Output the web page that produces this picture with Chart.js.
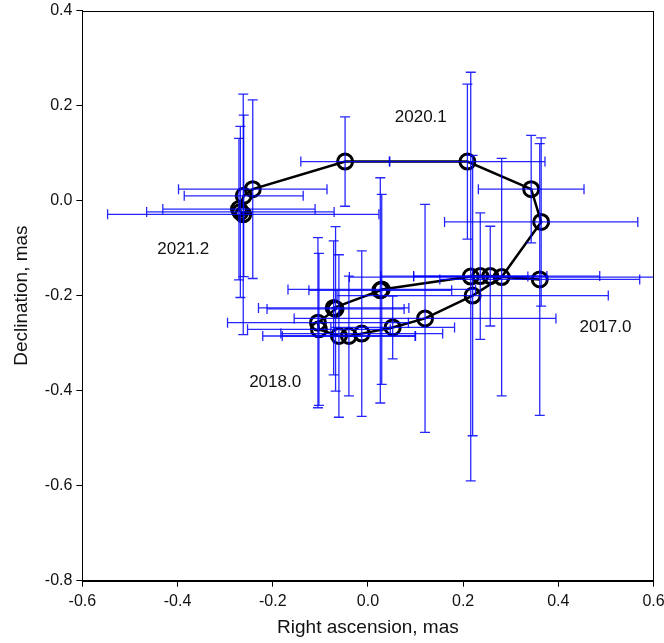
<!DOCTYPE html>
<html>
<head>
<meta charset="utf-8">
<script src="https://cdn.jsdelivr.net/npm/chart.js@4"></script>
<style>
  body { margin: 0; background: #fff; }
  #wrap { width: 664px; height: 643px; }
</style>
</head>
<body>
<div id="wrap"><canvas id="orbitChart"></canvas></div>
<script>
// positions in chronological order, mas
const raX = [0.361, 0.257, 0.236, 0.216, 0.029, 0.026, -0.072, -0.068, -0.105, -0.103, -0.061, -0.040, -0.013,
             0.052, 0.120, 0.220, 0.281, 0.364, 0.343, 0.209, -0.048, -0.242, -0.261, -0.271, -0.262, -0.268];
const decY = [-0.166, -0.159, -0.159, -0.160, -0.187, -0.189, -0.226, -0.228, -0.257, -0.271, -0.285, -0.285, -0.280,
              -0.267, -0.248, -0.200, -0.161, -0.045, 0.024, 0.082, 0.082, 0.024, 0.010, -0.018, -0.029, -0.024];
// symmetric 1-sigma errors
const raErr = [0.21, 0.23, 0.14, 0.12, 0.197, 0.15, 0.158, 0.144, 0.19, 0.15, 0.16, 0.14, 0.17,
               0.13, 0.275, 0.285, 0.32, 0.203, 0.111, 0.163, 0.093, 0.156, 0.125, 0.16, 0.285, 0.197];
const decErr = [0.286, 0.105, 0.133, 0.43, 0.2, 0.237, 0.141, 0.173, 0.179, 0.16, 0.171, 0.126, 0.174,
                0.066, 0.24, 0.295, 0.25, 0.177, 0.113, 0.163, 0.094, 0.188, 0.17, 0.149, 0.253, 0.18];

// epoch labels
const epochText = ['2020.1', '2021.2', '2018.0', '2017.0'];
const epochX = [0.111, -0.388, -0.195, 0.499];
const epochY = [0.175, -0.103, -0.383, -0.267];

const xTicks = [-0.6, -0.4, -0.2, 0.0, 0.2, 0.4, 0.6];
const yTicks = [-0.8, -0.6, -0.4, -0.2, 0.0, 0.2, 0.4];

const points = raX.map((x, i) => ({ x: x, y: decY[i] }));
const fontName = "'Liberation Sans', Arial, sans-serif";

const fmt = v => (Math.abs(v) < 1e-9 ? 0 : v).toFixed(1);

const errorBars = {
    id: 'errorBars',
    afterDatasetsDraw(chart) {
        const ctx = chart.ctx;
        const xs = chart.scales.x, ys = chart.scales.y;
        const area = chart.chartArea;
        const cap = 5;
        ctx.save();
        ctx.beginPath();
        ctx.rect(area.left, area.top, area.right - area.left, area.bottom - area.top);
        ctx.clip();
        ctx.strokeStyle = 'rgba(0, 0, 255, 0.85)';
        ctx.lineWidth = 1.3;
        for (let i = 0; i < raX.length; i++) {
            const cx = xs.getPixelForValue(raX[i]);
            const cy = ys.getPixelForValue(decY[i]);
            const x1 = xs.getPixelForValue(raX[i] - raErr[i]);
            const x2 = xs.getPixelForValue(raX[i] + raErr[i]);
            const y1 = ys.getPixelForValue(decY[i] + decErr[i]);
            const y2 = ys.getPixelForValue(decY[i] - decErr[i]);
            ctx.beginPath();
            ctx.moveTo(x1, cy); ctx.lineTo(x2, cy);
            ctx.moveTo(x1, cy - cap); ctx.lineTo(x1, cy + cap);
            ctx.moveTo(x2, cy - cap); ctx.lineTo(x2, cy + cap);
            ctx.moveTo(cx, y1); ctx.lineTo(cx, y2);
            ctx.moveTo(cx - cap, y1); ctx.lineTo(cx + cap, y1);
            ctx.moveTo(cx - cap, y2); ctx.lineTo(cx + cap, y2);
            ctx.stroke();
        }
        ctx.restore();

        // frame around plot
        ctx.save();
        ctx.strokeStyle = '#000';
        ctx.lineWidth = 1;
        ctx.strokeRect(Math.round(area.left) + 0.5, Math.round(area.top) + 0.5,
                       Math.round(area.right - area.left), Math.round(area.bottom - area.top));
        ctx.restore();

        // epoch labels
        ctx.save();
        ctx.fillStyle = '#111';
        ctx.font = '17px ' + fontName;
        ctx.textAlign = 'center';
        ctx.textBaseline = 'middle';
        epochText.forEach((t, i) => {
            ctx.fillText(t, xs.getPixelForValue(epochX[i]), ys.getPixelForValue(epochY[i]));
        });
        ctx.restore();
    }
};

new Chart(document.getElementById('orbitChart'), {
    type: 'scatter',
    data: {
        datasets: [{
            data: points,
            showLine: true,
            borderColor: '#000',
            borderWidth: 2.5,
            tension: 0,
            pointStyle: 'circle',
            pointRadius: 7.5,
            pointBorderWidth: 3,
            pointBorderColor: '#000',
            pointBackgroundColor: 'rgba(0,0,0,0)'
        }]
    },
    options: {
        responsive: true,
        maintainAspectRatio: false,
        animation: false,
        layout: { padding: { top: 0, right: 10, left: 10, bottom: 0 } },
        plugins: { legend: { display: false }, tooltip: { enabled: false } },
        scales: {
            x: {
                type: 'linear',
                min: -0.6, max: 0.6,
                afterBuildTicks: axis => { axis.ticks = xTicks.map(v => ({ value: v })); },
                afterFit: axis => { axis.paddingRight = 0; },
                ticks: { color: '#111', font: { size: 16, family: fontName, lineHeight: 0.8 }, padding: 8,
                         maxRotation: 0, callback: v => fmt(v) },
                grid: { drawOnChartArea: false, drawTicks: true, tickLength: 6, color: '#000' },
                border: { display: true, color: '#000' },
                title: { display: true, text: 'Right ascension, mas', color: '#111',
                         font: { size: 19, family: fontName, lineHeight: 1 }, padding: { top: 3, bottom: 5.5 } }
            },
            y: {
                type: 'linear',
                min: -0.8, max: 0.4,
                afterBuildTicks: axis => { axis.ticks = yTicks.map(v => ({ value: v })); },
                afterFit: axis => { axis.paddingTop = 0; },
                ticks: { color: '#111', font: { size: 16, family: fontName, lineHeight: 1 }, padding: 4,
                         callback: v => fmt(v) },
                grid: { drawOnChartArea: false, drawTicks: true, tickLength: 6, color: '#000' },
                border: { display: true, color: '#000' },
                title: { display: true, text: 'Declination, mas', color: '#111',
                         font: { size: 19, family: fontName }, padding: { top: 0, bottom: 8 } }
            }
        }
    },
    plugins: [errorBars]
});
</script>
</body>
</html>
